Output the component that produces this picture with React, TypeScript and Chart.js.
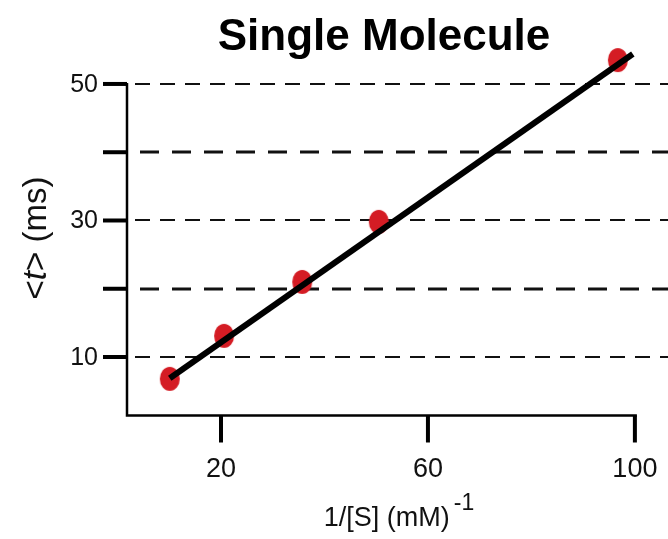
import React, { useEffect, useRef } from "react";
import { Chart, registerables } from "chart.js";

Chart.register(...registerables);

// ---- data ----
const inverseSubstrate = [10.1, 20.6, 35.7, 50.5, 96.7];
const meanWaitTime = [6.8, 13.1, 21.0, 29.8, 53.5];
const fitLineX = [10.1, 99.6];
const fitLineY = [6.9, 54.4];
const yTickValues = [10, 20, 30, 40, 50];
const yTickLabels = ["10", "", "30", "", "50"];
const xTickValues = [20, 60, 100];
const xTickLabels = ["20", "60", "100"];
const chartTitle = "Single Molecule";
const xAxisTitle = "1/[S] (mM)";
const xAxisTitleSup = "-1";
const yAxisTitleParts = ["<", "t", "> (ms)"];

const X_MIN = 1.64;
const X_MAX = 106.4;
const Y_MIN = 1.36;
const Y_MAX = 56;

const FONT = '"Liberation Sans", Arial, Helvetica, sans-serif';

const axesPlugin = {
  id: "customAxes",
  beforeDatasetsDraw(chart: any) {
    const { ctx, chartArea } = chart;
    const x = chart.scales.x;
    const y = chart.scales.y;
    ctx.save();
    ctx.strokeStyle = "#111";
    // dashed grid lines
    yTickValues.forEach((v, i) => {
      const py = Math.round(y.getPixelForValue(v));
      const major = yTickLabels[i] !== "";
      ctx.setLineDash(major ? [15, 10] : [19, 13]);
      ctx.lineWidth = major ? 2 : 3;
      ctx.beginPath();
      ctx.moveTo(chartArea.left + (major ? 9 : 14), py);
      ctx.lineTo(chartArea.right, py);
      ctx.stroke();
    });
    ctx.setLineDash([]);
    ctx.strokeStyle = "#000";
    // axis lines
    const ax = chartArea.left + 1;
    const ay = Math.round(y.getPixelForValue(Y_MIN)) - 0.5;
    ctx.lineWidth = 2.5;
    ctx.beginPath();
    ctx.moveTo(ax, y.getPixelForValue(50) - 1);
    ctx.lineTo(ax, ay);
    ctx.lineTo(x.getPixelForValue(100) + 2, ay);
    ctx.stroke();
    // y ticks
    ctx.lineWidth = 4;
    yTickValues.forEach((v) => {
      const py = y.getPixelForValue(v);
      ctx.beginPath();
      ctx.moveTo(ax - 24, py);
      ctx.lineTo(ax, py);
      ctx.stroke();
    });
    // x ticks
    xTickValues.forEach((v) => {
      const px = x.getPixelForValue(v);
      ctx.beginPath();
      ctx.moveTo(px, ay);
      ctx.lineTo(px, ay + 27);
      ctx.stroke();
    });
    ctx.restore();
  },
  afterDraw(chart: any) {
    const { ctx, chartArea } = chart;
    const x = chart.scales.x;
    const y = chart.scales.y;
    ctx.save();
    ctx.fillStyle = "#111";
    // y tick labels
    ctx.font = `25px ${FONT}`;
    ctx.textAlign = "right";
    ctx.textBaseline = "middle";
    yTickValues.forEach((v, i) => {
      if (!yTickLabels[i]) return;
      ctx.fillText(yTickLabels[i], chartArea.left - 28, y.getPixelForValue(v) + 1);
    });
    // x tick labels
    ctx.font = `27px ${FONT}`;
    ctx.textAlign = "center";
    ctx.textBaseline = "middle";
    xTickValues.forEach((v, i) => {
      ctx.fillText(xTickLabels[i], x.getPixelForValue(v), 470);
    });
    // title
    ctx.fillStyle = "#000";
    ctx.font = `bold 44px ${FONT}`;
    ctx.textAlign = "center";
    ctx.textBaseline = "alphabetic";
    ctx.fillText(chartTitle, 384, 50);
    // x axis title
    ctx.fillStyle = "#111";
    ctx.textAlign = "left";
    ctx.font = `27px ${FONT}`;
    const mainW = ctx.measureText(xAxisTitle).width;
    ctx.font = `23px ${FONT}`;
    const supW = ctx.measureText(xAxisTitleSup).width;
    const total = mainW + 4 + supW;
    const startX = 399 - total / 2;
    ctx.font = `27px ${FONT}`;
    ctx.fillText(xAxisTitle, startX, 526);
    ctx.font = `23px ${FONT}`;
    ctx.fillText(xAxisTitleSup, startX + mainW + 4, 510);
    // y axis title (rotated, with italic t)
    ctx.translate(46, 238);
    ctx.rotate(-Math.PI / 2);
    const fonts = [`33px ${FONT}`, `italic 33px ${FONT}`, `33px ${FONT}`];
    const widths = yAxisTitleParts.map((p, i) => {
      ctx.font = fonts[i];
      return ctx.measureText(p).width;
    });
    const tw = widths.reduce((a, b) => a + b, 0);
    let cx = -tw / 2;
    yAxisTitleParts.forEach((p, i) => {
      ctx.font = fonts[i];
      ctx.fillText(p, cx, 0);
      cx += widths[i];
    });
    ctx.restore();
  },
};

function makeDot(): HTMLCanvasElement {
  const c = document.createElement("canvas");
  c.width = 22;
  c.height = 26;
  const g = c.getContext("2d")!;
  g.fillStyle = "#d41c24";
  g.beginPath();
  g.ellipse(11, 13, 10, 12, 0, 0, Math.PI * 2);
  g.fill();
  return c;
}

export default function App() {
  const ref = useRef<HTMLCanvasElement | null>(null);
  useEffect(() => {
    if (!ref.current) return;
    const dot = makeDot();
    const chart = new Chart(ref.current, {
      type: "scatter",
      data: {
        datasets: [
          {
            label: "fit",
            data: fitLineX.map((v, i) => ({ x: v, y: fitLineY[i] })),
            showLine: true,
            borderColor: "#000",
            borderWidth: 6,
            borderCapStyle: "butt",
            pointRadius: 0,
            order: 0,
          } as any,
          {
            label: "data",
            data: inverseSubstrate.map((v, i) => ({ x: v, y: meanWaitTime[i] })),
            pointStyle: dot,
            pointRadius: 12,
            backgroundColor: "#d41c24",
            borderWidth: 0,
            order: 1,
          } as any,
        ],
      },
      options: {
        responsive: false,
        animation: false,
        layout: { autoPadding: false, padding: { left: 126, right: 0, top: 43, bottom: 123 } },
        scales: {
          x: { type: "linear", min: X_MIN, max: X_MAX, display: false },
          y: { type: "linear", min: Y_MIN, max: Y_MAX, display: false },
        },
        plugins: {
          legend: { display: false },
          tooltip: { enabled: false },
          title: { display: false },
        },
      } as any,
      plugins: [axesPlugin],
    });
    return () => chart.destroy();
  }, []);
  return (
    <div style={{ position: "fixed", left: 0, top: 0, width: 668, height: 539, background: "#fff" }}>
      <canvas ref={ref} width={668} height={539} style={{ display: "block" }} />
    </div>
  );
}
